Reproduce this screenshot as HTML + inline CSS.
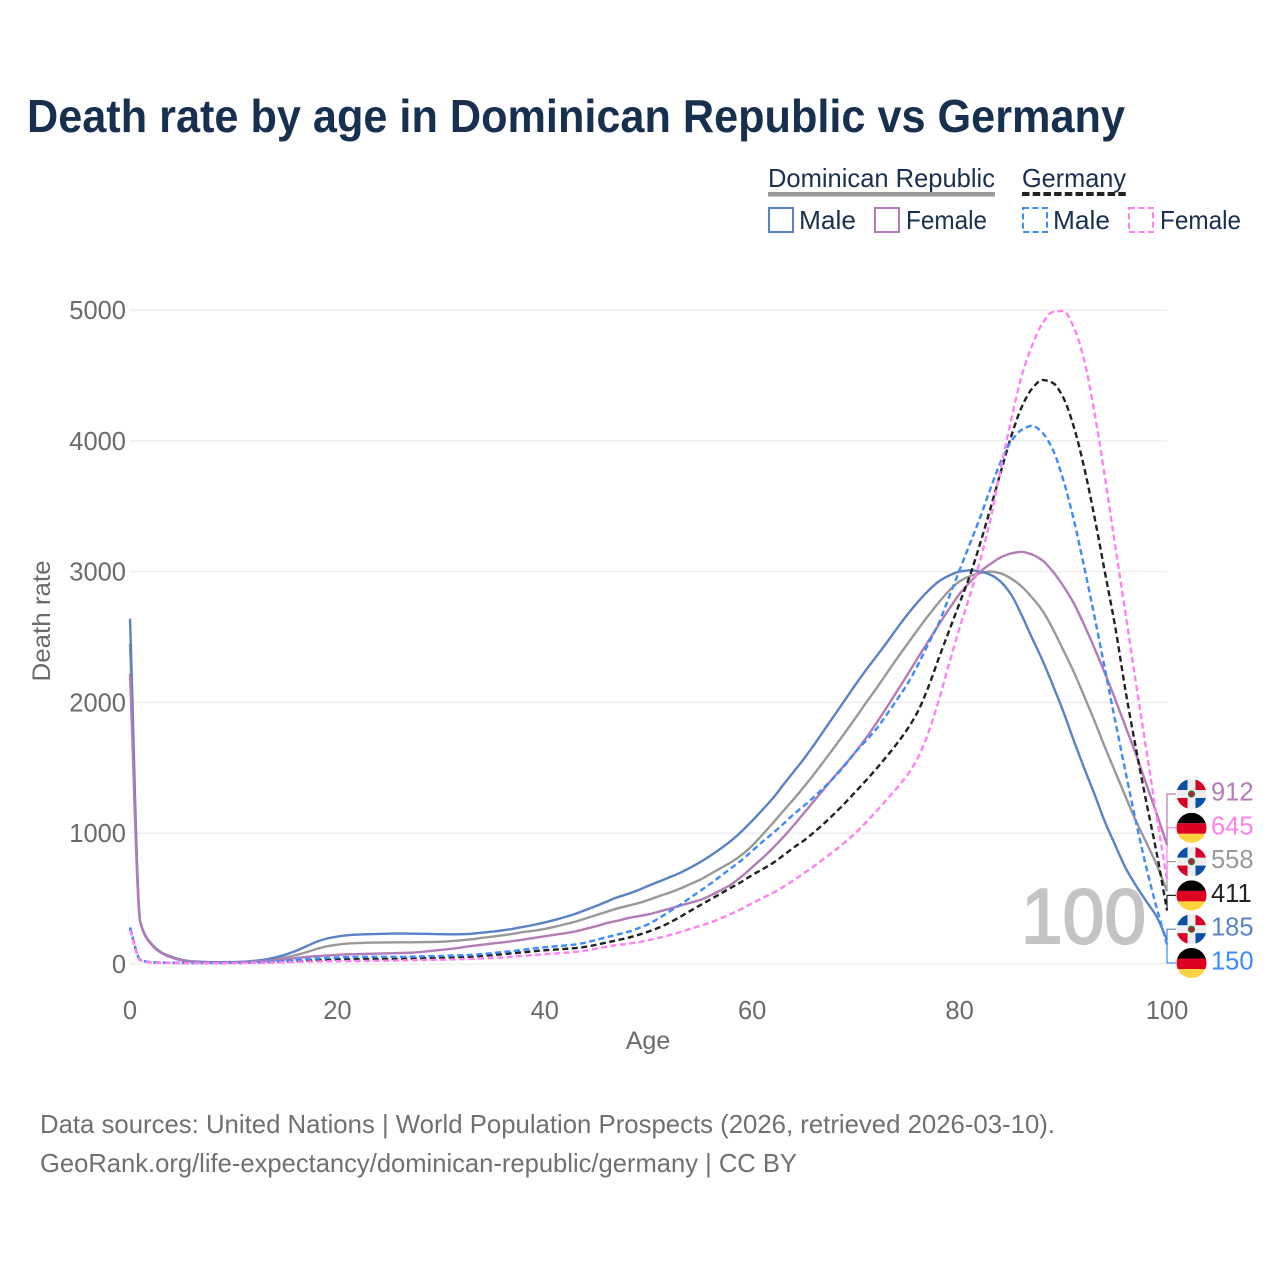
<!DOCTYPE html>
<html lang="en">
<head>
<meta charset="utf-8">
<title>Death rate by age in Dominican Republic vs Germany</title>
<style>
  html, body { margin: 0; padding: 0; background: #fff; }
  #chart { display: block; width: 1280px; height: 1280px; font-family: "Liberation Sans", sans-serif; }
</style>
</head>
<body>
<svg id="chart" xmlns="http://www.w3.org/2000/svg" width="1280" height="1280" viewBox="0 0 1280 1280">
  <rect x="0" y="0" width="1280" height="1280" fill="#ffffff"/>
  <text x="27" y="132" font-size="46" font-weight="700" fill="#17304f" textLength="1098" lengthAdjust="spacingAndGlyphs">Death rate by age in Dominican Republic vs Germany</text>

  <g font-size="26" fill="#1a3050">
    <text x="768" y="187" textLength="227" lengthAdjust="spacingAndGlyphs">Dominican Republic</text>
    <rect x="768" y="192" width="227" height="4.5" fill="#999999"/>
    <text x="1022" y="187" textLength="104" lengthAdjust="spacingAndGlyphs">Germany</text>
    <line x1="1022" y1="194" x2="1127" y2="194" stroke="#222222" stroke-width="4" stroke-dasharray="7.5 3.2"/>

    <rect x="769" y="208" width="24" height="24" fill="none" stroke="#5a82c6" stroke-width="2"/>
    <text x="799" y="229" textLength="57" lengthAdjust="spacingAndGlyphs">Male</text>
    <rect x="875" y="208" width="24" height="24" fill="none" stroke="#b47cb7" stroke-width="2"/>
    <text x="906" y="229" textLength="81" lengthAdjust="spacingAndGlyphs">Female</text>
    <rect x="1023" y="208" width="24" height="24" fill="none" stroke="#3d8bfd" stroke-width="2" stroke-dasharray="6 3.4"/>
    <text x="1053" y="229" textLength="57" lengthAdjust="spacingAndGlyphs">Male</text>
    <rect x="1129" y="208" width="24" height="24" fill="none" stroke="#ff82f0" stroke-width="2" stroke-dasharray="6 3.4"/>
    <text x="1160" y="229" textLength="81" lengthAdjust="spacingAndGlyphs">Female</text>
  </g>

  <g id="grid"></g>
  <g id="y-ticks"></g>
  <g id="x-ticks"></g>

  <text x="648" y="1049" font-size="25" fill="#6b6b6b" text-anchor="middle">Age</text>
  <text transform="translate(50,621) rotate(-90)" font-size="25" fill="#6b6b6b" text-anchor="middle" textLength="121" lengthAdjust="spacingAndGlyphs">Death rate</text>

  <text x="1021" y="943" font-size="78" fill="#c4c4c4" stroke="#c4c4c4" stroke-width="2" textLength="125" lengthAdjust="spacingAndGlyphs">100</text>

  <g id="series"></g>
  <g id="end-labels"></g>

  <text x="40" y="1133" font-size="26" fill="#707070" textLength="1015" lengthAdjust="spacingAndGlyphs">Data sources: United Nations | World Population Prospects (2026, retrieved 2026-03-10).</text>
  <text x="40" y="1172" font-size="26" fill="#707070" textLength="757" lengthAdjust="spacingAndGlyphs">GeoRank.org/life-expectancy/dominican-republic/germany | CC BY</text>
</svg>

<script>
// Values are indexed by age (0..100)
const yTicks = [0, 1000, 2000, 3000, 4000, 5000];
const xTicks = [0, 20, 40, 60, 80, 100];

const domMale = [2640,320,160,90,55,32,20,16,14,14,15,18,24,34,50,72,100,135,170,195,
  210,220,225,228,230,232,233,232,231,230,228,227,228,232,240,248,258,270,285,300,
  318,338,360,385,415,445,478,510,535,565,598,630,662,695,735,780,830,885,945,1015,
  1095,1180,1268,1370,1470,1570,1680,1795,1910,2025,2140,2250,2355,2460,2570,2675,2770,2855,2925,2970,
  3000,3010,3000,2975,2920,2820,2665,2490,2320,2130,1930,1710,1500,1300,1090,910,735,600,480,362,185];

const domTotal = [2450,320,158,88,52,30,19,15,13,13,14,16,20,27,37,50,68,90,115,135,
  148,156,160,163,164,165,166,166,167,168,170,175,182,190,200,210,220,232,245,255,
  268,285,305,325,350,375,400,425,445,465,490,518,545,575,610,645,690,735,780,835,
  905,990,1078,1170,1260,1355,1455,1560,1665,1775,1885,2000,2110,2225,2340,2450,2560,2665,2765,2855,
  2925,2965,2990,3000,2985,2945,2885,2800,2700,2560,2400,2235,2050,1860,1660,1470,1280,1095,930,760,558];

const domFemale = [2220,315,155,85,50,28,18,14,12,12,13,15,18,22,28,35,45,54,60,65,
  70,74,76,78,80,82,84,86,92,100,108,116,127,138,148,157,166,176,187,200,
  212,224,236,250,270,290,313,330,350,365,380,400,422,445,468,490,525,565,610,670,
  740,810,887,970,1060,1155,1250,1345,1440,1530,1625,1730,1845,1965,2090,2215,2345,2470,2595,2715,
  2830,2920,3000,3060,3110,3140,3150,3130,3085,3000,2890,2760,2595,2415,2225,2025,1815,1605,1375,1150,912];

const gerMale = [280,32,14,11,10,9,8,8,8,8,9,10,12,15,19,24,30,38,42,46,
  50,53,54,55,55,55,55,56,58,60,62,64,67,70,76,84,92,100,110,120,
  128,135,142,150,165,185,206,225,245,272,305,350,400,450,505,560,615,675,735,795,
  865,935,1001,1070,1145,1210,1280,1355,1435,1525,1625,1710,1800,1910,2025,2145,2290,2450,2607,2810,
  3012,3215,3418,3640,3845,4000,4085,4115,4060,3930,3700,3400,3040,2660,2260,1860,1470,1090,740,430,150];

const gerTotal = [270,30,13,10,9,8,7,7,7,7,8,9,10,12,15,18,22,26,30,33,
  35,36,37,38,38,39,40,41,43,45,47,50,53,56,62,69,75,83,90,98,
  105,110,116,122,132,148,165,182,200,222,248,278,315,358,405,450,495,540,585,630,
  680,725,772,830,890,945,1010,1080,1155,1235,1320,1405,1495,1590,1690,1800,1935,2120,2340,2550,
  2760,2970,3220,3490,3770,4040,4260,4400,4465,4442,4330,4110,3800,3420,3000,2580,2090,1650,1240,850,411];

const gerFemale = [260,28,12,9,8,7,6,6,6,6,7,8,9,10,12,14,16,18,19,20,
  21,22,23,24,25,26,27,29,30,31,33,35,37,39,43,47,50,57,63,69,
  75,80,86,93,105,118,132,145,155,166,182,200,220,243,268,292,318,350,385,422,
  465,505,543,590,640,695,750,810,870,935,1005,1085,1170,1260,1350,1450,1580,1770,2020,2300,
  2570,2820,3090,3410,3800,4170,4500,4730,4900,4985,4993,4870,4620,4220,3730,3200,2680,2150,1640,1130,645];

const SVGNS = 'http://www.w3.org/2000/svg';
const xScale = function (age) { return 130 + age * (1167 - 130) / 100; };
const yScale = function (v) { return 964 - v * (964 - 310) / 5000; };

function make(tag, attrs, parent) {
  const el = document.createElementNS(SVGNS, tag);
  Object.keys(attrs).forEach(function (k) { el.setAttribute(k, attrs[k]); });
  parent.appendChild(el);
  return el;
}

// Monotone cubic path through the plotted values
function monotonePath(values) {
  const n = values.length;
  const xs = values.map(function (v, i) { return xScale(i); });
  const ys = values.map(function (v) { return yScale(v); });
  const d = [];
  for (let i = 0; i < n - 1; i++) { d.push((ys[i + 1] - ys[i]) / (xs[i + 1] - xs[i])); }
  const m = [d[0]];
  for (let i = 1; i < n - 1; i++) {
    m.push(d[i - 1] * d[i] <= 0 ? 0 : 2 * d[i - 1] * d[i] / (d[i - 1] + d[i]));
  }
  m.push(d[n - 2]);
  let path = 'M' + xs[0].toFixed(2) + ' ' + ys[0].toFixed(2);
  for (let i = 0; i < n - 1; i++) {
    const h = (xs[i + 1] - xs[i]) / 3;
    path += 'C' + (xs[i] + h).toFixed(2) + ' ' + (ys[i] + m[i] * h).toFixed(2) + ' ' +
      (xs[i + 1] - h).toFixed(2) + ' ' + (ys[i + 1] - m[i + 1] * h).toFixed(2) + ' ' +
      xs[i + 1].toFixed(2) + ' ' + ys[i + 1].toFixed(2);
  }
  return path;
}

const gridGroup = document.getElementById('grid');
const yTickGroup = document.getElementById('y-ticks');
const xTickGroup = document.getElementById('x-ticks');

yTicks.forEach(function (t) {
  const line = make('line', { x1: xScale(0), x2: xScale(100), y1: yScale(t), y2: yScale(t), stroke: '#eeeeee', 'stroke-width': 1.5 }, gridGroup);
  
  
  const label = make('text', { x: 126, y: yScale(t) + 9, 'font-size': 25.5, fill: '#6b6b6b', 'text-anchor': 'end' }, yTickGroup);
  
  
  label.textContent = t;
});

xTicks.forEach(function (t) {
  const label = make('text', { x: xScale(t), y: 1019, 'font-size': 25.5, fill: '#6b6b6b', 'text-anchor': 'middle' }, xTickGroup);
  
  
  label.textContent = t;
});

const seriesList = [
  { key: 'dominican-total', values: domTotal, color: '#999999', dash: '', flag: 'do' },
  { key: 'dominican-male', values: domMale, color: '#5a82c6', dash: '', flag: 'do' },
  { key: 'dominican-female', values: domFemale, color: '#b47cb7', dash: '', flag: 'do' },
  { key: 'germany-total', values: gerTotal, color: '#222222', dash: '6 3.5', flag: 'de' },
  { key: 'germany-male', values: gerMale, color: '#3d8bfd', dash: '6 3.5', flag: 'de' },
  { key: 'germany-female', values: gerFemale, color: '#ff82f0', dash: '6 3.5', flag: 'de' }
];

const seriesGroup = document.getElementById('series');
seriesList.forEach(function (s) {
  const attrs = { d: monotonePath(s.values), fill: 'none', stroke: s.color, 'stroke-width': 2.4, 'stroke-linejoin': 'round' };
  if (s.dash) { attrs['stroke-dasharray'] = s.dash; }
  const line = make('path', attrs, seriesGroup);
  
  
});

function drawFlag(parent, kind, cx, cy, idx) {
  const r = 15;
  const defs = make('defs', {}, parent);
  const clip = make('clipPath', { id: 'flag-clip-' + idx }, defs);
  make('circle', { cx: cx, cy: cy, r: r }, clip);
  const g = make('g', { 'clip-path': 'url(#flag-clip-' + idx + ')' }, parent);
  
  
  if (kind === 'de') {
    make('rect', { x: cx - r, y: cy - r, width: 2 * r, height: 10.5, fill: '#000000' }, g);
    make('rect', { x: cx - r, y: cy - r + 10.5, width: 2 * r, height: 10.5, fill: '#dd0020' }, g);
    make('rect', { x: cx - r, y: cy - r + 21, width: 2 * r, height: 9, fill: '#ffd23f' }, g);
  } else {
    make('rect', { x: cx - r, y: cy - r, width: 2 * r, height: 2 * r, fill: '#eeeeee' }, g);
    make('rect', { x: cx - r, y: cy - r, width: r - 4, height: r - 4, fill: '#0a50a8' }, g);
    make('rect', { x: cx + 4, y: cy - r, width: r - 4, height: r - 4, fill: '#d80027' }, g);
    make('rect', { x: cx - r, y: cy + 4, width: r - 4, height: r - 4, fill: '#d80027' }, g);
    make('rect', { x: cx + 4, y: cy + 4, width: r - 4, height: r - 4, fill: '#0a50a8' }, g);
    make('circle', { cx: cx, cy: cy, r: 3.6, fill: '#3f6b3a' }, g);
    make('circle', { cx: cx, cy: cy, r: 2.1, fill: '#c0163a' }, g);
  }
}

const labelGroup = document.getElementById('end-labels');
const sortedEnds = seriesList.slice().sort(function (a, b) {
  return a.values[a.values.length - 1] - b.values[b.values.length - 1];
});
sortedEnds.forEach(function (s, i) {
  const endValue = s.values[s.values.length - 1];
  const labelY = 963 - i * 33.8;
  const endY = yScale(endValue);
  const leader = make('polyline', {
    points: '1166,' + endY.toFixed(1) + ' 1167,' + endY.toFixed(1) + ' 1167,' + labelY.toFixed(1) + ' 1176,' + labelY.toFixed(1),
    fill: 'none', stroke: s.color, 'stroke-width': 1.2
  }, labelGroup);
  
  
  drawFlag(labelGroup, s.flag, 1191.5, labelY, i);
  const label = make('text', { x: 1211, y: labelY + 6.5, 'font-size': 25.5, fill: s.color }, labelGroup);
  
  
  label.textContent = endValue;
});
</script>
</body>
</html>
